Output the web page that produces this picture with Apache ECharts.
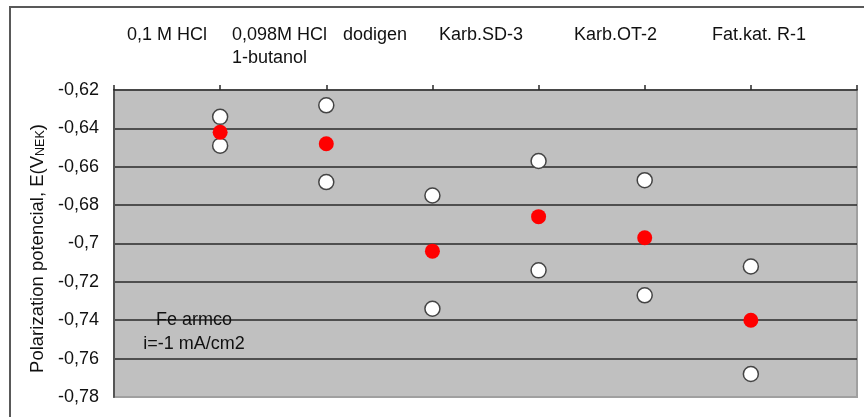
<!DOCTYPE html>
<html>
<head>
<meta charset="utf-8">
<script src="https://cdn.jsdelivr.net/npm/echarts@6/dist/echarts.min.js"></script>
<style>
html,body{margin:0;padding:0;background:#fff;}
#c{width:864px;height:417px;}
</style>
</head>
<body>
<div id="c"></div>
<script>
// ---- data ----
var categories = ['0,1 M HCl', '0,098M HCl\n1-butanol', 'dodigen', 'Karb.SD-3', 'Karb.OT-2', 'Fat.kat. R-1'];
var meanValues  = [-0.642, -0.648, -0.704, -0.686, -0.697, -0.740];
var upperValues = [-0.634, -0.628, -0.675, -0.657, -0.667, -0.712];
var lowerValues = [-0.649, -0.668, -0.734, -0.714, -0.727, -0.768];
var yTicks = {min: -0.78, max: -0.62, step: 0.02};
var noteText = 'Fe armco\ni=-1 mA/cm2';

// ---- layout (not data) ----
var labelLeft = [127, 232, 343, 439, 574, 712];

var FONT = '"Liberation Sans", Arial, sans-serif';
function pts(arr){ return arr.map(function(v,i){ return [i+1, v]; }); }

var chart = echarts.init(document.getElementById('c'));
var graphics = [{
  type: 'rect', z: 100, silent: true,
  shape: {x: 10, y: 7, width: 1000, height: 600},
  style: {fill: 'none', stroke: '#595959', lineWidth: 2}
}];
categories.forEach(function(c, i){
  graphics.push({
    type: 'text', x: labelLeft[i], y: 24, z: 100,
    style: {text: c, fontSize: 18, fontFamily: FONT, fill: '#111', align: 'left', verticalAlign: 'top', lineHeight: 23}
  });
});
graphics.push({
  type: 'text', x: 194, y: 332, z: 100,
  style: {text: noteText, fontSize: 18, fontFamily: FONT, fill: '#111', align: 'center', verticalAlign: 'middle', lineHeight: 24}
});

chart.setOption({
  animation: false,
  backgroundColor: '#fff',
  grid: {left: 114, right: 7, top: 90, bottom: 20, show: true, backgroundColor: '#c0c0c0', borderColor: '#a0a0a0', borderWidth: 2},
  xAxis: {
    type: 'value', min: 0, max: 7, interval: 1, position: 'top',
    axisLine: {show: true, lineStyle: {color: '#2a2a2a', width: 1.5}},
    axisTick: {show: true, length: 5, inside: false, lineStyle: {color: '#2a2a2a', width: 1.5}},
    axisLabel: {show: false},
    splitLine: {show: false}
  },
  yAxis: {
    type: 'value', min: yTicks.min, max: yTicks.max, interval: yTicks.step,
    name: '{a|Polarization potencial, E(V}{b|NEK}{a|)}',
    nameLocation: 'middle', nameGap: 53, nameRotate: 90,
    nameTextStyle: {padding: [0, 10, 0, 0], rich: {a: {fontSize: 18.5, fontFamily: FONT, color: '#111'}, b: {fontSize: 12.5, fontFamily: FONT, color: '#111', padding: [6,0,0,0]}}},
    axisLine: {show: true, lineStyle: {color: '#555', width: 2}},
    axisTick: {show: false},
    axisLabel: {margin: 15, fontSize: 18, fontFamily: FONT, color: '#111',
      formatter: function(v){ return String(+v.toFixed(2)).replace('.', ','); }},
    splitLine: {show: true, showMinLine: false, showMaxLine: false, lineStyle: {color: '#2a2a2a', width: 1.5}}
  },
  graphic: graphics,
  series: [
    {type: 'scatter', data: pts(upperValues), symbolSize: 15, itemStyle: {color: '#fff', borderColor: '#444', borderWidth: 1.5, opacity: 1}, z: 3},
    {type: 'scatter', data: pts(lowerValues), symbolSize: 15, itemStyle: {color: '#fff', borderColor: '#444', borderWidth: 1.5, opacity: 1}, z: 3},
    {type: 'scatter', data: pts(meanValues), symbolSize: 15, itemStyle: {color: '#ff0000', opacity: 1}, z: 4}
  ]
});
</script>
</body>
</html>
